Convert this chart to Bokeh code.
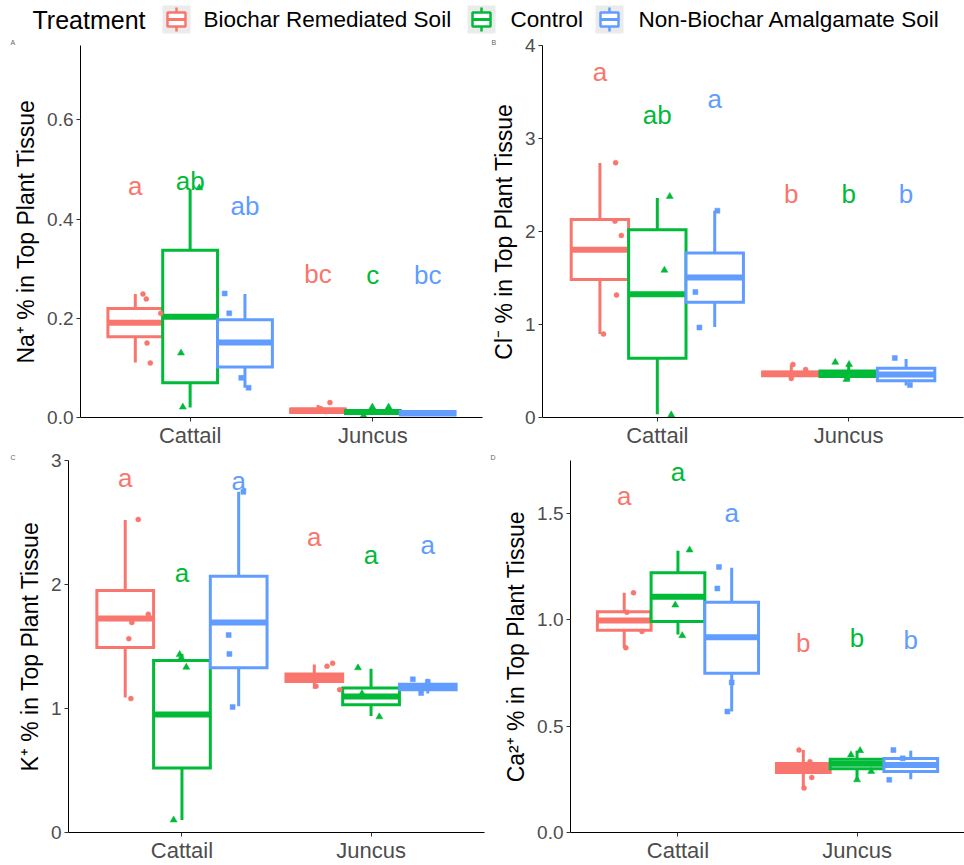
from bokeh.plotting import figure
from bokeh.layouts import column, row
from bokeh.models import Range1d, FixedTicker, PrintfTickFormatter, ColumnDataSource
from bokeh.core.properties import value
from bokeh.embed import file_html
from bokeh.resources import INLINE

FONT = "Liberation Sans"

# ---------------- data ----------------
species = ["Cattail", "Juncus"]
treatments = ["Biochar Remediated Soil", "Control", "Non-Biochar Amalgamate Soil"]
colors = ["#F8766D", "#00BA38", "#619CFF"]
markers = ["circle", "triangle", "square"]

# box order: Cattail (BRS, Control, NBA), Juncus (BRS, Control, NBA)
box_species = [0, 0, 0, 1, 1, 1]
box_treat = [0, 1, 2, 0, 1, 2]

# Panel A: Na+
na_lower = [0.111, 0.020, 0.060, 0.009, 0.005, 0.003]
na_q1 = [0.163, 0.070, 0.102, 0.010, 0.008, 0.005]
na_med = [0.191, 0.203, 0.151, 0.014, 0.011, 0.009]
na_q3 = [0.220, 0.337, 0.197, 0.017, 0.014, 0.012]
na_upper = [0.249, 0.460, 0.249, 0.025, 0.021, 0.014]
na_pt_species = [0, 0, 0, 0, 0, 0, 0, 0, 0, 0, 0, 0, 1, 1, 1, 1, 1, 1]
na_pt_treat = [0, 0, 0, 0, 0, 1, 1, 1, 2, 2, 2, 2, 0, 0, 0, 1, 1, 1]
na_pt_value = [0.249, 0.239, 0.210, 0.150, 0.110, 0.463, 0.130, 0.021, 0.250, 0.210, 0.080, 0.060,
               0.030, 0.018, 0.012, 0.021, 0.021, 0.004]
na_pt_jitter = [0.042, 0.060, 0.139, 0.064, 0.082, 0.050, -0.050, -0.040, -0.111, -0.086, -0.020, 0.020,
                0.065, 0.014, 0.041, -0.003, 0.086, -0.051]
na_letters = ["a", "ab", "ab", "bc", "c", "bc"]
na_letter_y = [0.467, 0.477, 0.427, 0.290, 0.287, 0.287]

# Panel B: Cl-
cl_lower = [0.897, 0.036, 0.972, 0.420, 0.400, 0.345]
cl_q1 = [1.484, 0.637, 1.238, 0.450, 0.440, 0.395]
cl_med = [1.804, 1.324, 1.505, 0.470, 0.470, 0.463]
cl_q3 = [2.128, 2.018, 1.769, 0.490, 0.500, 0.530]
cl_upper = [2.737, 2.360, 2.224, 0.570, 0.576, 0.630]
cl_pt_species = [0, 0, 0, 0, 0, 0, 0, 0, 0, 0, 0, 1, 1, 1, 1, 1, 1, 1, 1]
cl_pt_treat = [0, 0, 0, 0, 0, 1, 1, 1, 2, 2, 2, 0, 0, 0, 1, 1, 1, 2, 2]
cl_pt_value = [2.740, 2.110, 1.957, 1.317, 0.897, 2.377, 1.584, 0.028, 2.224, 1.349, 0.968,
               0.570, 0.516, 0.420, 0.594, 0.410, 0.570, 0.640, 0.349]
cl_pt_jitter = [0.082, 0.079, 0.112, 0.087, 0.019, 0.065, 0.037, 0.073, 0.014, -0.101, -0.080,
                0.009, 0.075, 0.000, -0.070, -0.012, 0.002, -0.059, 0.020]
cl_letters = ["a", "ab", "a", "b", "b", "b"]
cl_letter_y = [3.72, 3.25, 3.43, 2.40, 2.40, 2.40]

# Panel C: K+
k_lower = [1.088, 0.101, 1.019, 1.160, 0.939, 1.120]
k_q1 = [1.491, 0.520, 1.328, 1.217, 1.030, 1.152]
k_med = [1.725, 0.952, 1.693, 1.248, 1.097, 1.173]
k_q3 = [1.952, 1.387, 2.067, 1.279, 1.165, 1.195]
k_upper = [2.520, 1.440, 2.747, 1.355, 1.320, 1.240]
k_pt_species = [0, 0, 0, 0, 0, 0, 0, 0, 0, 0, 0, 0, 0, 1, 1, 1, 1, 1, 1, 1, 1, 1, 1]
k_pt_treat = [0, 0, 0, 0, 0, 1, 1, 1, 1, 2, 2, 2, 2, 0, 0, 0, 0, 1, 1, 1, 2, 2, 2]
k_pt_value = [2.525, 1.760, 1.693, 1.563, 1.080, 1.435, 1.408, 1.333, 0.101, 2.747, 1.592, 1.440, 1.013,
              1.341, 1.365, 1.179, 1.152, 1.328, 1.120, 0.933, 1.235, 1.125, 1.213]
k_pt_jitter = [0.069, 0.122, 0.035, 0.019, 0.030, -0.012, -0.004, 0.023, -0.044, 0.025, -0.053, -0.049, -0.032,
               0.067, 0.097, 0.009, 0.134, -0.069, -0.048, 0.044, -0.079, -0.035, 0.000]
k_letters = ["a", "a", "a", "a", "a", "a"]
k_letter_y = [2.859, 2.093, 2.832, 2.387, 2.235, 2.315]

# Panel D: Ca2+
ca_lower = [0.869, 0.931, 0.569, 0.209, 0.244, 0.251]
ca_q1 = [0.952, 0.993, 0.749, 0.282, 0.300, 0.287]
ca_med = [0.997, 1.109, 0.918, 0.303, 0.323, 0.318]
ca_q3 = [1.039, 1.222, 1.083, 0.325, 0.345, 0.348]
ca_upper = [1.128, 1.326, 1.246, 0.388, 0.385, 0.385]
ca_pt_species = [0, 0, 0, 0, 0, 0, 0, 0, 0, 0, 0, 1, 1, 1, 1, 1, 1, 1, 1, 1, 1, 1]
ca_pt_treat = [0, 0, 0, 0, 1, 1, 1, 2, 2, 2, 2, 0, 0, 0, 0, 1, 1, 1, 1, 2, 2, 2]
ca_pt_value = [1.128, 0.869, 0.946, 1.036, 1.329, 1.070, 0.926, 1.249, 1.148, 0.706, 0.569,
               0.388, 0.259, 0.209, 0.333, 0.385, 0.248, 0.287, 0.365, 0.388, 0.248, 0.349]
ca_pt_jitter = [0.052, 0.009, 0.099, 0.015, 0.065, -0.015, 0.024, -0.071, -0.080, 0.000, -0.024,
                -0.024, 0.047, 0.004, 0.037, 0.017, 0.000, 0.079, -0.034, -0.097, -0.120, -0.045]
ca_letters = ["a", "a", "a", "b", "b", "b"]
ca_letter_y = [1.582, 1.694, 1.501, 0.892, 0.915, 0.907]

DODGE = 0.3
BOXW = 0.3
XMIN, XMAX = 0.4, 2.6


def make_panel(width, height, left, right, top, bottom, ymax, yticks, yfmt, ylabel,
               lower, q1, med, q3, upper, pts, pjit, pval, ptreat, letters, letter_y, tag, tag_x):
    p = figure(width=width, height=height, x_range=Range1d(XMIN, XMAX), y_range=Range1d(0, ymax),
               output_backend="svg", toolbar_location=None,
               min_border_left=left, min_border_right=right, min_border_top=top, min_border_bottom=bottom)
    p.grid.visible = False
    p.outline_line_color = None
    p.background_fill_color = "white"
    p.border_fill_color = "white"

    # small panel tag in the top-left corner
    p.title.text = tag
    p.title.text_font = FONT
    p.title.text_font_size = "7px"
    p.title.text_font_style = "normal"
    p.title.text_color = "#666666"
    p.title.align = "left"
    p.title.offset = tag_x - left
    p.title.standoff = 0

    for i in range(len(box_species)):
        x = box_species[i] + 1 + (box_treat[i] - 1) * DODGE
        c = colors[box_treat[i]]
        src = ColumnDataSource(dict(x=[x], l=[x - BOXW / 2], r=[x + BOXW / 2],
                                    lo=[lower[i]], q1=[q1[i]], md=[med[i]], q3=[q3[i]], up=[upper[i]]))
        p.segment(x0="x", y0="q3", x1="x", y1="up", source=src, line_color=c, line_width=3)
        p.segment(x0="x", y0="q1", x1="x", y1="lo", source=src, line_color=c, line_width=3)
        p.quad(left="l", right="r", bottom="q1", top="q3", source=src, fill_color="white",
               line_color=c, line_width=3, line_join="miter")
        p.segment(x0="l", y0="md", x1="r", y1="md", source=src, line_color=c, line_width=6)

    for t in range(3):
        xs = [pts[j] + 1 + (ptreat[j] - 1) * DODGE + pjit[j] for j in range(len(pts)) if ptreat[j] == t]
        ys = [pval[j] for j in range(len(pts)) if ptreat[j] == t]
        size = 7 if markers[t] == "triangle" else 5
        p.scatter(x=xs, y=ys, marker=markers[t], size=size, fill_color=colors[t], line_color=colors[t],
                  line_width=0.5)

    lx = [box_species[i] + 1 + (box_treat[i] - 1) * DODGE for i in range(len(box_species))]
    lc = [colors[t] for t in box_treat]
    p.text(x=lx, y=letter_y, text=letters, text_color=lc, text_font=value(FONT),
           text_font_size=value("26px"), text_align="center", text_baseline="middle")

    p.xaxis.ticker = FixedTicker(ticks=[1, 2])
    p.xaxis.major_label_overrides = {1: species[0], 2: species[1]}
    p.yaxis.ticker = FixedTicker(ticks=yticks)
    if yfmt:
        p.yaxis.formatter = PrintfTickFormatter(format=yfmt)
    for ax in (p.xaxis[0], p.yaxis[0]):
        ax.axis_line_color = "black"
        ax.axis_line_width = 1
        ax.major_tick_line_color = "#333333"
        ax.major_tick_in = 0
        ax.major_tick_out = 4
        ax.minor_tick_line_color = None
        ax.major_label_text_color = "#4D4D4D"
        ax.major_label_text_font = FONT
    p.xaxis.major_label_text_font_size = "22px"
    p.xaxis.major_label_standoff = 1
    p.yaxis.major_label_text_font_size = "19px"
    p.yaxis.major_label_standoff = 3
    p.yaxis.axis_label = ylabel
    p.yaxis.axis_label_text_font = FONT
    p.yaxis.axis_label_text_font_size = "23px"
    p.yaxis.axis_label_text_font_style = "normal"
    p.yaxis.axis_label_text_color = "black"
    p.yaxis.axis_label_standoff = 5
    return p


pa = make_panel(487, 414, 80, 5, 9, 30, 0.75, [0, 0.2, 0.4, 0.6], "%.1f", "Na\u207a % in Top Plant Tissue",
                na_lower, na_q1, na_med, na_q3, na_upper, na_pt_species, na_pt_jitter, na_pt_value, na_pt_treat,
                na_letters, na_letter_y, "A", 10)
pb = make_panel(477, 414, 55, 1, 9, 30, 4.0, [0, 1, 2, 3, 4], None, "Cl\u207b % in Top Plant Tissue",
                cl_lower, cl_q1, cl_med, cl_q3, cl_upper, cl_pt_species, cl_pt_jitter, cl_pt_value, cl_pt_treat,
                cl_letters, cl_letter_y, "B", 4)
pc = make_panel(488, 415, 68, 4, 10, 29, 3.0, [0, 1, 2, 3], None, "K\u207a % in Top Plant Tissue",
                k_lower, k_q1, k_med, k_q3, k_upper, k_pt_species, k_pt_jitter, k_pt_value, k_pt_treat,
                k_letters, k_letter_y, "C", 10)
pd_ = make_panel(476, 415, 82, 0, 10, 29, 1.75, [0, 0.5, 1.0, 1.5], "%.1f", "Ca\u00b2\u207a % in Top Plant Tissue",
                 ca_lower, ca_q1, ca_med, ca_q3, ca_upper, ca_pt_species, ca_pt_jitter, ca_pt_value, ca_pt_treat,
                 ca_letters, ca_letter_y, "D", 2)

# ---------------- legend strip ----------------
LH = 36
leg = figure(width=964, height=LH, x_range=Range1d(0, 964), y_range=Range1d(0, LH),
             output_backend="svg", toolbar_location=None, min_border=0,
             x_axis_type=None, y_axis_type=None)
leg.outline_line_color = None
leg.border_fill_color = "white"
leg.background_fill_color = "white"
key_left = [162, 467, 595]
label_left = [203, 510, 638]
cy = LH - 19
leg.text(x=[32], y=[cy], text=["Treatment"], text_font=value(FONT), text_font_size=value("25px"),
         text_baseline="middle", text_align="left", text_color="black")
for t in range(3):
    cx = key_left[t] + 14
    leg.quad(left=[key_left[t]], right=[key_left[t] + 28], bottom=[cy - 14], top=[cy + 14],
             fill_color="#EBEBEB", line_color=None)
    leg.segment(x0=[cx], y0=[cy - 12], x1=[cx], y1=[cy + 12], line_color=colors[t], line_width=2.5)
    leg.quad(left=[cx - 9], right=[cx + 9], bottom=[cy - 7], top=[cy + 7], fill_color="white",
             line_color=colors[t], line_width=2.5)
    leg.segment(x0=[cx - 9], y0=[cy], x1=[cx + 9], y1=[cy], line_color=colors[t], line_width=3)
    leg.text(x=[label_left[t]], y=[cy], text=[treatments[t]], text_font=value(FONT),
             text_font_size=value("22.5px"), text_baseline="middle", text_align="left", text_color="black")

layout = column(leg, row(pa, pb), row(pc, pd_))
open("out.html", "w").write(file_html(layout, INLINE))
